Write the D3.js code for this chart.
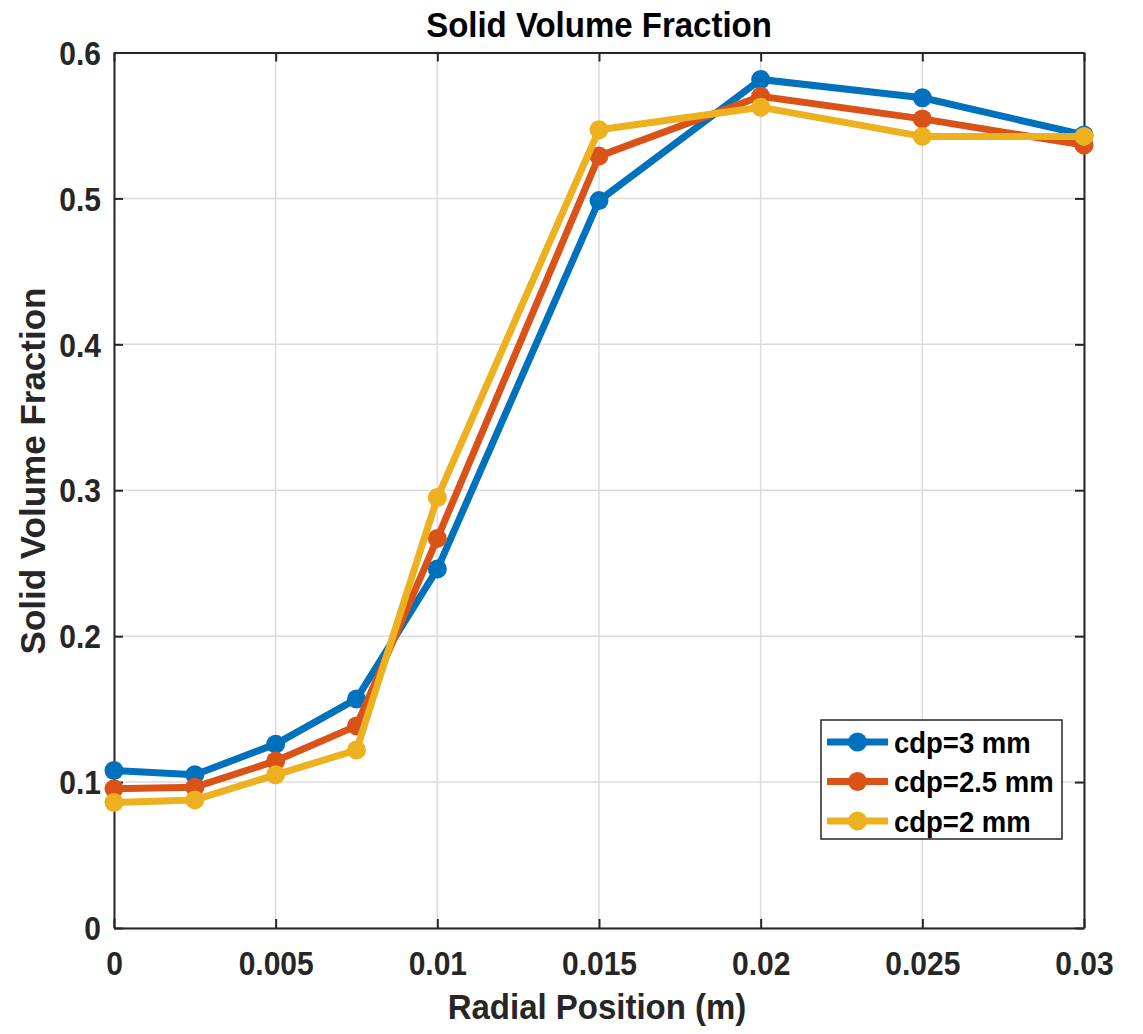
<!DOCTYPE html>
<html>
<head>
<meta charset="utf-8">
<script src="https://cdn.jsdelivr.net/npm/d3@7"></script>
<style>
  body { margin: 0; background: #fff; }
  svg { display: block; font-family: "Liberation Sans", Arial, Helvetica, sans-serif; font-weight: bold; }
</style>
</head>
<body>
<div id="chart"></div>
<script>
// radial positions (m)
const positions = [0, 0.0025, 0.005, 0.0075, 0.01, 0.015, 0.02, 0.025, 0.03];

// solid volume fraction per particle diameter
const cdp3 = [0.108, 0.105, 0.126, 0.157, 0.246, 0.4985, 0.5815, 0.569, 0.5435];
const cdp25 = [0.0955, 0.0965, 0.1145, 0.1385, 0.267, 0.529, 0.570, 0.5545, 0.5365];
const cdp2 = [0.086, 0.0878, 0.105, 0.122, 0.295, 0.547, 0.5625, 0.5425, 0.5425];

const seriesNames = ['cdp=3 mm', 'cdp=2.5 mm', 'cdp=2 mm'];
const seriesColors = ['#0072BD', '#D95319', '#EDB120'];

const xTicks = [0, 0.005, 0.01, 0.015, 0.02, 0.025, 0.03];
const xTickLabels = ['0', '0.005', '0.01', '0.015', '0.02', '0.025', '0.03'];
const yTicks = [0, 0.1, 0.2, 0.3, 0.4, 0.5, 0.6];
const yTickLabels = ['0', '0.1', '0.2', '0.3', '0.4', '0.5', '0.6'];

const width = 1143, height = 1034;
const margin = { top: 52.5, right: 59, bottom: 106, left: 114 };
const innerW = width - margin.left - margin.right;
const innerH = height - margin.top - margin.bottom;
const axisColor = '#262626';
const stretch = 1.08; // the picture's text is a bit taller than wide

const svg = d3.select('#chart').append('svg')
  .attr('width', width)
  .attr('height', height);

const g = svg.append('g')
  .attr('transform', `translate(${margin.left},${margin.top})`);

const x = d3.scaleLinear().domain([0, 0.03]).range([0, innerW]);
const y = d3.scaleLinear().domain([0, 0.6]).range([innerH, 0]);

// grid
g.append('g').selectAll('line').data(xTicks).enter().append('line')
  .attr('x1', d => x(d)).attr('x2', d => x(d))
  .attr('y1', 0).attr('y2', innerH)
  .attr('stroke', '#dcdcdc').attr('stroke-width', 1.5);
g.append('g').selectAll('line').data(yTicks).enter().append('line')
  .attr('x1', 0).attr('x2', innerW)
  .attr('y1', d => y(d)).attr('y2', d => y(d))
  .attr('stroke', '#dcdcdc').attr('stroke-width', 1.5);

// axes (ticks inward, box on all sides)
const styleAxis = sel => {
  sel.select('.domain').attr('stroke', axisColor).attr('stroke-width', 2);
  sel.selectAll('.tick line').attr('stroke', axisColor).attr('stroke-width', 2);
  sel.selectAll('text').attr('fill', axisColor).style('font-size', '30px')
    .style('font-family', '"Liberation Sans", Arial, sans-serif').style('font-weight', 'bold');
};

const xAxis = g.append('g')
  .attr('transform', `translate(0,${innerH})`)
  .call(d3.axisBottom(x).tickValues(xTicks).tickSizeInner(-9).tickSizeOuter(0)
    .tickFormat((d, i) => xTickLabels[i]));
styleAxis(xAxis);
xAxis.selectAll('text').attr('y', 0).attr('dy', 0)
  .attr('transform', `translate(0,47) scale(1,${stretch})`);

const yAxis = g.append('g')
  .call(d3.axisLeft(y).tickValues(yTicks).tickSizeInner(-9).tickSizeOuter(0)
    .tickFormat((d, i) => yTickLabels[i]));
styleAxis(yAxis);
yAxis.selectAll('text').attr('x', -13).attr('dy', '0.36em')
  .attr('transform', `scale(1,${stretch})`);

const topAxis = g.append('g')
  .call(d3.axisTop(x).tickValues(xTicks).tickSizeInner(-9).tickSizeOuter(0).tickFormat(''));
styleAxis(topAxis);
const rightAxis = g.append('g')
  .attr('transform', `translate(${innerW},0)`)
  .call(d3.axisRight(y).tickValues(yTicks).tickSizeInner(-9).tickSizeOuter(0).tickFormat(''));
styleAxis(rightAxis);

// series
const allSeries = [cdp3, cdp25, cdp2];
const line = d3.line().x((d, i) => x(positions[i])).y(d => y(d));

allSeries.forEach((vals, s) => {
  const sg = g.append('g');
  sg.append('path')
    .datum(vals)
    .attr('d', line)
    .attr('fill', 'none')
    .attr('stroke', seriesColors[s])
    .attr('stroke-width', 7)
    .attr('stroke-linejoin', 'round');
  sg.selectAll('circle').data(vals).enter().append('circle')
    .attr('cx', (d, i) => x(positions[i]))
    .attr('cy', d => y(d))
    .attr('r', 9.5)
    .attr('fill', seriesColors[s]);
});

// legend
const legend = svg.append('g').attr('transform', 'translate(821,720)');
legend.append('rect')
  .attr('width', 241).attr('height', 119)
  .attr('fill', '#fff').attr('stroke', axisColor).attr('stroke-width', 1.5);
seriesNames.forEach((name, i) => {
  const rowY = 22 + i * 39.5;
  legend.append('line')
    .attr('x1', 6).attr('x2', 67).attr('y1', rowY).attr('y2', rowY)
    .attr('stroke', seriesColors[i]).attr('stroke-width', 7);
  legend.append('circle')
    .attr('cx', 36.5).attr('cy', rowY).attr('r', 9.5)
    .attr('fill', seriesColors[i]);
  legend.append('text')
    .attr('transform', `translate(73,${rowY}) scale(1,${stretch})`)
    .attr('dy', '0.36em')
    .attr('fill', '#000')
    .style('font-size', '27.5px')
    .text(name);
});

// title and labels
svg.append('text')
  .attr('transform', `translate(${margin.left + innerW / 2},37) scale(1,${stretch})`)
  .attr('text-anchor', 'middle').attr('fill', '#000')
  .style('font-size', '33px')
  .text('Solid Volume Fraction');

svg.append('text')
  .attr('transform', `translate(597,1019) scale(1,${stretch})`)
  .attr('text-anchor', 'middle').attr('fill', axisColor)
  .style('font-size', '33px')
  .text('Radial Position (m)');

svg.append('text')
  .attr('transform', 'translate(45,471) rotate(-90)')
  .attr('text-anchor', 'middle').attr('fill', axisColor)
  .style('font-size', '35px')
  .text('Solid Volume Fraction');
</script>
</body>
</html>
